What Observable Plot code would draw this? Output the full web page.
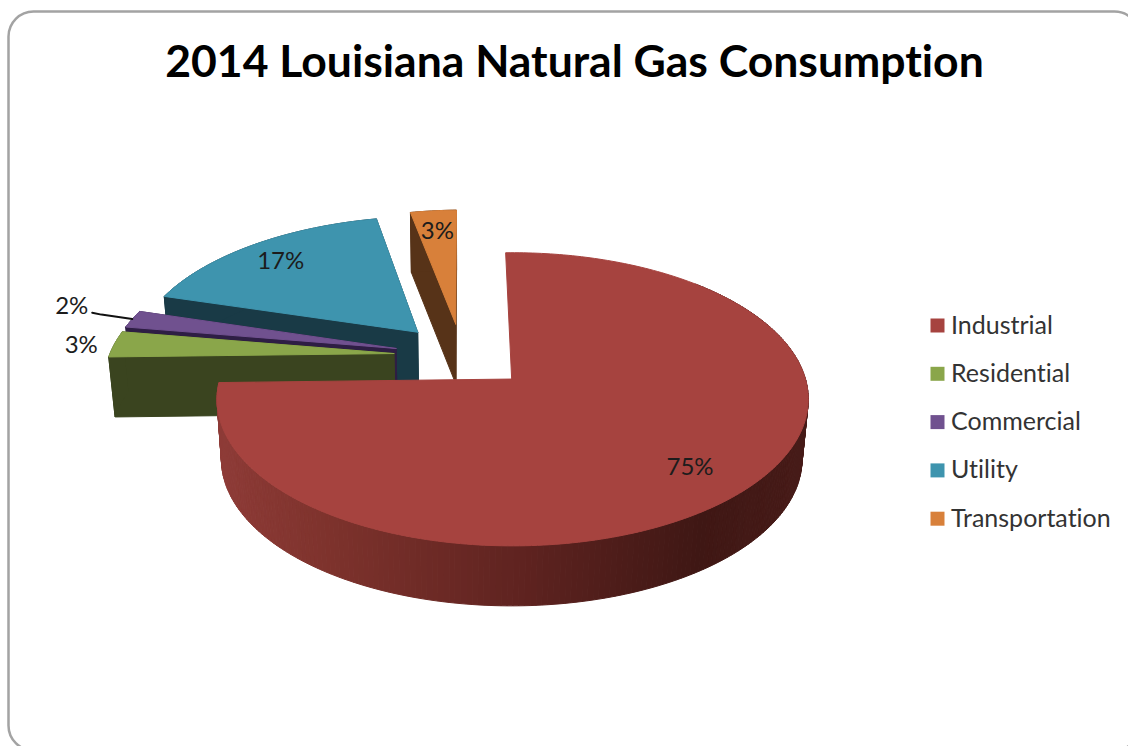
<!DOCTYPE html>
<html><head><meta charset="utf-8">
<script src="https://cdn.jsdelivr.net/npm/d3@7"></script>
<script src="https://cdn.jsdelivr.net/npm/@observablehq/plot@0.6"></script>
<style>html,body{margin:0;padding:0;background:#fff;overflow:hidden}svg{display:block;font-variant-ligatures:none}svg text{font-variant-ligatures:none;font-feature-settings:"liga" 0}</style>
</head><body><div id="chart"></div>
<script>
const titleText = "2014 Louisiana Natural Gas Consumption";
const categories = ["Industrial","Residential","Commercial","Utility","Transportation"];
const shares = [75,3,2,17,3];
const topColors = ["#a6433f","#8aa64a","#70518f","#3e94ae","#d8803a"];
const wallColors = ["#7a2e2a","#3a441f","#2e1e44","#193a46","#573318"];
const labelRadius = [0.795,1.115,1.26,0.81,0.80];
const labelTurn = [1.5,-1,2,-0.6,0];

// 3D pie camera
const cx=461.5, cy=355.3, a=286, b=137.3, k=0.135, roll=0.012, explode=0.24, depth=60, shrink=0.982;
function project(u,v,low=false){
  const w=1-k*v; let X=cx+a*u/w, Y=cy+b*v/w;
  Y-=roll*(X-cx);
  if(low){X=cx+(X-cx)*shrink;Y+=depth;}
  return [X,Y];
}
const rad=d=>d*Math.PI/180;
const total=d3.sum(shares);
let acc=0;
const slices=shares.map((s,i)=>{const start=acc/total*360;acc+=s;const end=acc/total*360;
  const mid=(start+end)/2;
  return {i,start,end,mid,ox:explode*Math.sin(rad(mid)),oy:-explode*Math.cos(rad(mid))};});
const pt=(sl,r,deg,low)=>project(sl.ox+r*Math.sin(rad(deg)),sl.oy-r*Math.cos(rad(deg)),low);

const rows=[]; let pid=0;
function poly(points,fill){const id=pid++;for(const [x,y] of [...points,points[0]])rows.push({id,x,y,fill});}
function arc(sl,low,from=sl.start,to=sl.end){const n=Math.max(2,Math.ceil(Math.abs(to-from)));return d3.range(n+1).map(j=>pt(sl,1,from+(to-from)*j/n,low));}
const redShade=d3.scaleLinear().domain([217,330,520,700,808]).range(["#8e3b37","#7d322c","#5f2320","#3f1714","#471b18"]).clamp(true);

// painter's order: back slices first, the front slice last
for(const i of [4,3,2,1,0]){
  const sl=slices[i];
  const c=pt(sl,0,0,false), cl=pt(sl,0,0,true);
  const st=pt(sl,1,sl.start,false), stl=pt(sl,1,sl.start,true);
  const en=pt(sl,1,sl.end,false), enl=pt(sl,1,sl.end,true);
  if(i===0){
    // curved rim, shaded strip by strip; only its front part can be seen
    for(let t=sl.start+45;t<sl.end;t+=1){
      const p=pt(sl,1,t,false),q=pt(sl,1,t+1,false);
      poly([p,q,pt(sl,1,t+1,true),pt(sl,1,t,true)],redShade((p[0]+q[0])/2));
    }
  } else {
    poly([c,en,enl,cl],wallColors[i]);
    poly([c,st,stl,cl],wallColors[i]);
    poly([...arc(sl,false),...arc(sl,true).reverse()],wallColors[i]);
  }
  poly([c,...arc(sl,false)],topColors[i]);
}

const labels=slices.map(sl=>{const [x,y]=pt(sl,labelRadius[sl.i],sl.mid+labelTurn[sl.i],false);return {x,y,text:shares[sl.i]+"%"};});
const comm=slices[2];
const leaderRadius=[1.0,1.125,1.164], leaderTurn=[0,0.4,0.7];
const leader=leaderRadius.map((r,j)=>{const [x,y]=pt(comm,r,comm.mid+leaderTurn[j],false);return {x,y};});

const font="Lato, 'Open Sans', sans-serif";
const legendY=i=>325+48.3*i;

const chart=Plot.plot({
  width:1128,height:746,margin:0,
  x:{domain:[0,1128],range:[0,1128],axis:null},
  y:{domain:[0,746],range:[0,746],axis:null},
  color:{type:"identity"},
  marks:[
    Plot.frame({stroke:"#a3a3a3",strokeWidth:2.5,rx:25,insetLeft:8,insetTop:11,insetRight:-11,insetBottom:-4,fill:"#fff"}),
    Plot.line(rows,{x:"x",y:"y",z:"id",fill:"fill",stroke:"fill",strokeWidth:1,curve:"linear"}),
    Plot.line(leader,{x:"x",y:"y",stroke:"#111",strokeWidth:2}),
    Plot.text(labels,{x:"x",y:"y",text:"text",fontSize:24,fontFamily:font,fill:"#1c1c1c"}),
    Plot.text([titleText],{x:()=>574,y:()=>62,text:d=>d,fontSize:44.5,fontWeight:700,fontFamily:font,fill:"#000"}),
    Plot.dot(categories,{x:()=>937,y:(d,i)=>legendY(i),symbol:"square",r:7.9,fill:(d,i)=>topColors[i],stroke:null}),
    Plot.text(categories,{x:()=>950.5,y:(d,i)=>legendY(i),text:d=>d,textAnchor:"start",fontSize:25,fontFamily:font,fill:"#333"})
  ]
});
document.getElementById("chart").append(chart);
</script></body></html>
